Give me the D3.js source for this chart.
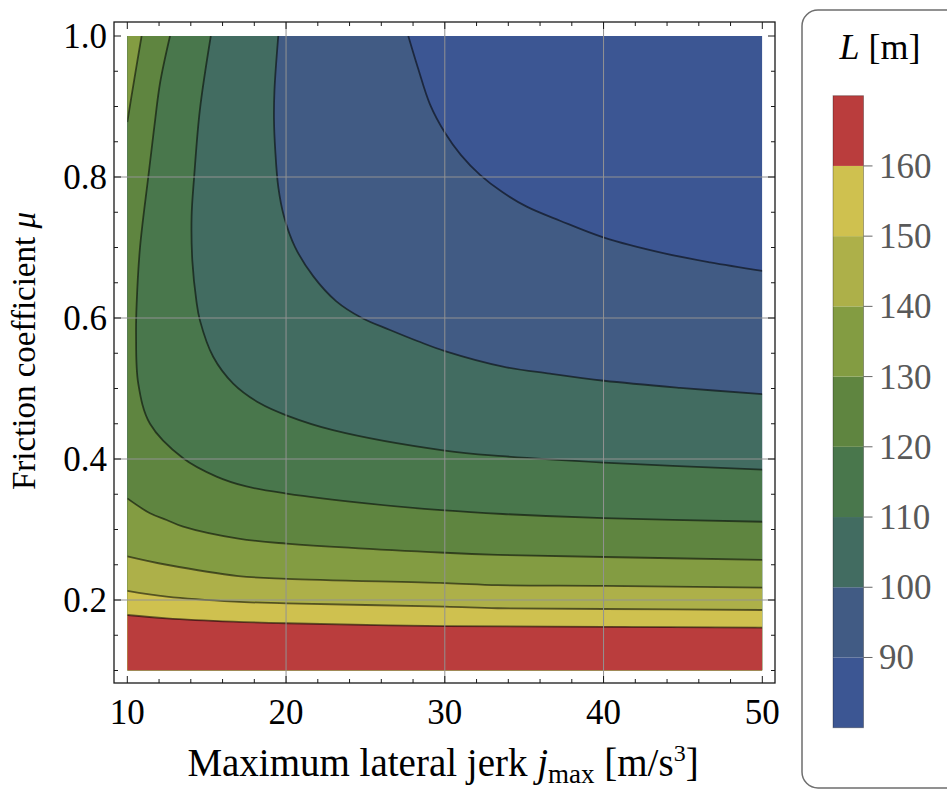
<!DOCTYPE html>
<html>
<head>
<meta charset="utf-8">
<script src="https://cdn.jsdelivr.net/npm/d3@7"></script>
<style>
  html, body { margin: 0; padding: 0; background: #ffffff; }
  svg { display: block; }
  text { font-family: "Liberation Serif", "Times New Roman", serif; }
</style>
</head>
<body>
<svg id="chart" width="947" height="789"></svg>
<script>
// ---------------- data ----------------
const xDomain = [10, 50];          // j_max [m/s^3]
const yDomain = [0.1, 1.0];        // friction coefficient mu
const xTicks = [10, 20, 30, 40, 50];
const yTicks = [0.2, 0.4, 0.6, 0.8, 1.0];
const xGrid = [20, 30, 40];
const yGrid = [0.2, 0.4, 0.6, 0.8];

// contour lines of L, points as [j_max, mu]
const c90 = [[27.7, 1.0], [28.31, 0.9546], [29.06, 0.9035], [30.03, 0.862], [31.02, 0.831], [32.22, 0.803],
             [33.6, 0.779], [35.16, 0.758], [37.26, 0.738], [40.03, 0.714], [43.76, 0.692], [46.71, 0.679],
             [50.0, 0.667]];
const c100 = [[19.51, 1.0], [19.27, 0.923], [19.24, 0.881], [19.32, 0.838], [19.51, 0.786], [19.87, 0.744],
              [20.56, 0.701], [21.72, 0.659], [23.15, 0.624], [24.78, 0.6], [26.55, 0.583], [28.31, 0.567],
              [30.01, 0.553], [33.67, 0.531], [36.63, 0.521], [40.03, 0.511], [44.82, 0.501], [50.0, 0.492]];
const c110 = [[15.26, 1.0], [14.57, 0.895], [14.21, 0.8], [14.05, 0.744], [14.1, 0.68], [14.36, 0.623],
              [14.57, 0.597], [15.41, 0.545], [16.67, 0.507], [18.35, 0.479], [20.02, 0.462], [22.96, 0.441],
              [30.0, 0.412], [33.65, 0.404], [40.0, 0.395], [50.0, 0.385]];
const c120 = [[12.69, 1.0], [12.06, 0.933], [11.7, 0.871], [11.32, 0.8], [10.8, 0.7], [10.59, 0.621],
              [10.55, 0.578], [10.69, 0.507], [11.43, 0.45], [13.52, 0.401], [15.62, 0.375], [17.5, 0.361],
              [20.02, 0.351], [25.06, 0.337], [30.0, 0.327], [33.65, 0.322], [40.0, 0.316], [50.0, 0.311]];
const c130top = [[10.9, 1.0], [10.45, 0.94], [10.0, 0.878]];
const c130 = [[10.0, 0.344], [11.43, 0.323], [12.48, 0.3135], [13.52, 0.304], [17.0, 0.287], [20.02, 0.28],
              [30.0, 0.267], [33.33, 0.264], [40.0, 0.261], [50.0, 0.257]];
const c140 = [[10.0, 0.262], [12.48, 0.25], [17.0, 0.234], [20.02, 0.23], [30.0, 0.224], [33.33, 0.221],
              [40.0, 0.22], [50.0, 0.2175]];
const c150 = [[10.0, 0.213], [12.48, 0.2047], [16.77, 0.1976], [20.02, 0.1953], [30.0, 0.1905],
              [33.33, 0.1883], [40.0, 0.1872], [50.0, 0.1858]];
const c160 = [[10.0, 0.1787], [12.48, 0.174], [16.67, 0.1693], [20.02, 0.167], [30.0, 0.163],
              [40.0, 0.162], [50.0, 0.1607]];

const levels = [90, 100, 110, 120, 130, 140, 150, 160];
const bandLower = [80, 90, 100, 110, 120, 130, 140, 150, 160];
const bandTop = 170;
const colorbarTicks = [90, 100, 110, 120, 130, 140, 150, 160];
const bandColors = ["#3c5693", "#415b84", "#426c61", "#49774c", "#5f8540", "#839c42", "#adb049", "#cfc14f", "#ba3d3d"];

// ---------------- layout ----------------
const svg = d3.select("#chart");
const frame = { left: 114, right: 775, top: 22, bottom: 683 };
const x = d3.scaleLinear().domain(xDomain).range([127.3, 762.3]);
const y = d3.scaleLinear().domain(yDomain).range([670.5, 36]);

const pieces = [
  { level: 90, pts: c90 }, { level: 100, pts: c100 }, { level: 110, pts: c110 },
  { level: 120, pts: c120 }, { level: 130, pts: c130top }, { level: 130, pts: c130 },
  { level: 140, pts: c140 }, { level: 150, pts: c150 }, { level: 160, pts: c160 }
];

const eps = 1e-6;
const [x0, x1] = xDomain, [y0, y1] = yDomain;
const corners = [[x0, y1], [x1, y1], [x1, y0], [x0, y0]];
function perim(p) {
  const [j, m] = p;
  if (m >= y1 - eps) return (j - x0) / (x1 - x0);
  if (j >= x1 - eps) return 1 + (y1 - m) / (y1 - y0);
  if (m <= y0 + eps) return 2 + (x1 - j) / (x1 - x0);
  return 3 + (m - y0) / (y1 - y0);
}
const line = d3.line().x(d => x(d[0])).y(d => y(d[1])).curve(d3.curveCatmullRom.alpha(0.5));

function regionPath(pts) {
  const ts = perim(pts[0]);
  const te = perim(pts[pts.length - 1]);
  const tsAdj = ts > te ? ts : ts + 4;
  let d = line(pts);
  for (let c = Math.ceil(te + eps); c < tsAdj; c++) {
    const p = corners[c % 4];
    d += "L" + x(p[0]) + "," + y(p[1]);
  }
  return d + "Z";
}

svg.append("clipPath").attr("id", "plotClip")
  .append("rect")
  .attr("x", x(x0)).attr("y", y(y1))
  .attr("width", x(x1) - x(x0)).attr("height", y(y0) - y(y1));

const plot = svg.append("g").attr("clip-path", "url(#plotClip)");

// base band
plot.append("rect")
  .attr("x", x(x0)).attr("y", y(y1))
  .attr("width", x(x1) - x(x0)).attr("height", y(y0) - y(y1))
  .attr("fill", bandColors[0]);

// filled regions L >= level, painted in ascending order
pieces.forEach(p => {
  const idx = bandLower.indexOf(p.level);
  plot.append("path").attr("d", regionPath(p.pts)).attr("fill", bandColors[idx]).attr("stroke", "none");
});

// contour lines
pieces.forEach(p => {
  plot.append("path").attr("d", line(p.pts))
    .attr("fill", "none").attr("stroke", "rgba(0,0,0,0.55)").attr("stroke-width", 1.8);
});

// grid lines
const grid = svg.append("g").attr("stroke", "#929292").attr("stroke-width", 1);
xGrid.forEach(v => grid.append("line").attr("x1", x(v)).attr("x2", x(v)).attr("y1", frame.top).attr("y2", frame.bottom));
yGrid.forEach(v => grid.append("line").attr("y1", y(v)).attr("y2", y(v)).attr("x1", frame.left).attr("x2", frame.right));

// frame
svg.append("rect")
  .attr("x", frame.left).attr("y", frame.top)
  .attr("width", frame.right - frame.left).attr("height", frame.bottom - frame.top)
  .attr("fill", "none").attr("stroke", "#1a1a1a").attr("stroke-width", 1.3);

// ticks
const tk = svg.append("g").attr("stroke", "#1a1a1a").attr("stroke-width", 1);
d3.range(10, 50.001, 2).forEach(v => {
  const major = Math.abs(v % 10) < 1e-6;
  const L = major ? 7 : 4;
  tk.append("line").attr("x1", x(v)).attr("x2", x(v)).attr("y1", frame.bottom).attr("y2", frame.bottom - L);
  tk.append("line").attr("x1", x(v)).attr("x2", x(v)).attr("y1", frame.top).attr("y2", frame.top + L);
});
d3.range(0.1, 1.0001, 0.05).forEach(v => {
  const major = yTicks.some(t => Math.abs(t - v) < 1e-6);
  const L = major ? 7 : 4;
  tk.append("line").attr("y1", y(v)).attr("y2", y(v)).attr("x1", frame.left).attr("x2", frame.left + L);
  tk.append("line").attr("y1", y(v)).attr("y2", y(v)).attr("x1", frame.right).attr("x2", frame.right - L);
});

// tick labels
const xAxisLab = svg.append("g").attr("font-size", 35).attr("fill", "#000").attr("text-anchor", "middle");
xTicks.forEach(v => xAxisLab.append("text").attr("x", x(v)).attr("y", 724).text(d3.format("d")(v)));
const yAxisLab = svg.append("g").attr("font-size", 35).attr("fill", "#000").attr("text-anchor", "end");
yTicks.forEach(v => yAxisLab.append("text").attr("x", 107).attr("y", y(v) + 12).text(d3.format(".1f")(v)));

// axis titles
const xt = svg.append("text").attr("x", 443).attr("y", 776).attr("font-size", 39).attr("text-anchor", "middle").attr("fill", "#000");
xt.append("tspan").text("Maximum lateral jerk ");
xt.append("tspan").attr("font-style", "italic").text("j");
xt.append("tspan").attr("font-size", 27).attr("dy", 7).text("max");
xt.append("tspan").attr("dy", -7).text(" [m/s");
xt.append("tspan").attr("font-size", 24).attr("dy", -15).text("3");
xt.append("tspan").attr("dy", 15).text("]");

const yt = svg.append("text").attr("transform", "translate(35,351) rotate(-90)")
  .attr("font-size", 33).attr("text-anchor", "middle").attr("fill", "#000");
yt.append("tspan").text("Friction coefficient ");
yt.append("tspan").attr("font-style", "italic").text("μ");

// ---------------- legend ----------------
svg.append("rect").attr("x", 802).attr("y", 10).attr("width", 200).attr("height", 778)
  .attr("rx", 16).attr("ry", 16).attr("fill", "#fff").attr("stroke", "#6e6e6e").attr("stroke-width", 1.5);

const lt = svg.append("text").attr("x", 880).attr("y", 59).attr("font-size", 36).attr("text-anchor", "middle").attr("fill", "#000");
lt.append("tspan").attr("font-style", "italic").text("L");
lt.append("tspan").text(" [m]");

const cb = d3.scaleLinear().domain([bandLower[0], bandTop]).range([727.7, 95.7]);
const cbX = 833, cbW = 30.5;
bandLower.forEach((b, i) => {
  const top = i + 1 < bandLower.length ? bandLower[i + 1] : bandTop;
  svg.append("rect").attr("x", cbX).attr("y", cb(top)).attr("width", cbW).attr("height", cb(b) - cb(top))
    .attr("fill", bandColors[i]);
});
svg.append("rect").attr("x", cbX).attr("y", cb(bandTop)).attr("width", cbW).attr("height", cb(bandLower[0]) - cb(bandTop))
  .attr("fill", "none").attr("stroke", "rgba(0,0,0,0.3)").attr("stroke-width", 1);

const cbt = svg.append("g");
colorbarTicks.forEach(v => {
  cbt.append("line").attr("x1", cbX + cbW).attr("x2", cbX + cbW + 9).attr("y1", cb(v)).attr("y2", cb(v))
    .attr("stroke", "#666").attr("stroke-width", 1);
  cbt.append("text").attr("x", 879).attr("y", cb(v) + 12).attr("font-size", 35).attr("fill", "#595959")
    .text(d3.format("d")(v));
});
</script>
</body>
</html>
